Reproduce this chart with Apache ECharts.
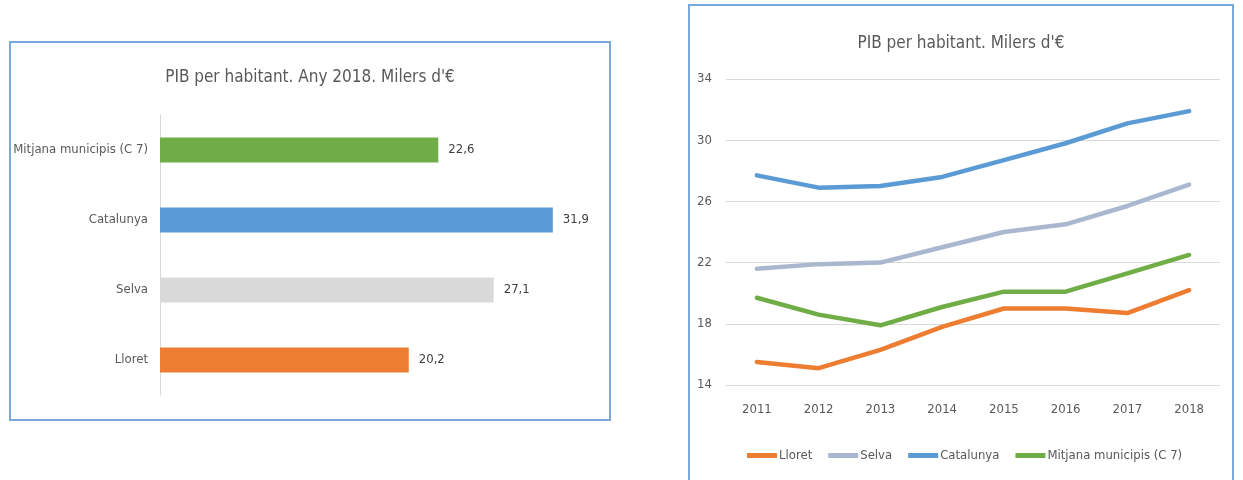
<!DOCTYPE html>
<html>
<head>
<meta charset="utf-8">
<script src="https://cdn.jsdelivr.net/npm/echarts@6/dist/echarts.min.js"></script>
<style>
  html, body { margin: 0; padding: 0; background: #fff; overflow: hidden; width: 1243px; height: 480px; }
  #barchart { position: absolute; left: 9px; top: 41px; width: 598px; height: 376px; border: 2px solid #7aa7dc; }
  #linechart { position: absolute; left: 688px; top: 4px; width: 542px; height: 480px; border: 2px solid #7aa7dc; }
</style>
</head>
<body>
<div id="barchart"></div>
<div id="linechart"></div>
<script>
// dades del grafic de barres (any 2018), de baix a dalt
const barCats = ['Lloret', 'Selva', 'Catalunya', 'Mitjana municipis (C 7)'];
const barVals = [20.2, 27.1, 31.9, 22.6];
const barColors = ['#ED7D31', '#D9D9D9', '#5B9BD5', '#70AD47'];

// dades del grafic de linies
const years = ['2011', '2012', '2013', '2014', '2015', '2016', '2017', '2018'];
const lloret = [15.5, 15.1, 16.3, 17.8, 19.0, 19.0, 18.7, 20.2];
const selva = [21.6, 21.9, 22.0, 23.0, 24.0, 24.5, 25.7, 27.1];
const catalunya = [27.7, 26.9, 27.0, 27.6, 28.7, 29.8, 31.1, 31.9];
const mitjana = [19.7, 18.6, 17.9, 19.1, 20.1, 20.1, 21.3, 22.5];
const yTicks = [14, 18, 22, 26, 30, 34];

const font = '"DejaVu Sans Condensed", "Liberation Sans", sans-serif';
const txt = '#595959';

let barChart = echarts.init(document.getElementById('barchart'));
barChart.setOption({
  animation: false,
  textStyle: { fontFamily: font },
  title: {
    text: "PIB per habitant. Any 2018. Milers d'€",
    left: 'center',
    top: 21,
    textStyle: { fontFamily: font, fontSize: 17, fontWeight: 'normal', color: txt }
  },
  grid: { left: 149, right: 18, top: 72, bottom: 24, outerBoundsMode: 'none' },
  xAxis: {
    type: 'value', min: 0, max: 35, show: false
  },
  yAxis: {
    type: 'category',
    data: barCats,
    axisLine: { lineStyle: { color: '#D9D9D9' } },
    axisTick: { show: false },
    axisLabel: { color: txt, fontSize: 13, fontFamily: font, margin: 12 }
  },
  series: [{
    type: 'bar',
    barWidth: 25,
    data: barVals.map((v, i) => ({ value: v, itemStyle: { color: barColors[i] } })),
    label: {
      show: true,
      position: 'right',
      distance: 10,
      color: '#404040',
      fontSize: 13,
      fontFamily: font,
      formatter: p => p.value.toFixed(1).replace('.', ',')
    }
  }]
});

let lineChart = echarts.init(document.getElementById('linechart'));
const mkLine = (name, data, color) => ({
  name: name,
  type: 'line',
  data: data,
  symbol: 'none',
  lineStyle: { width: 4.5, color: color, cap: 'round', join: 'round' },
  itemStyle: { color: color }
});
lineChart.setOption({
  animation: false,
  textStyle: { fontFamily: font },
  title: {
    text: "PIB per habitant. Milers d'€",
    left: 'center',
    top: 24,
    textStyle: { fontFamily: font, fontSize: 17, fontWeight: 'normal', color: txt }
  },
  grid: { left: 36, right: 12, top: 73, bottom: 101, outerBoundsMode: 'none' },
  legend: {
    left: 52,
    top: 438,
    itemWidth: 30,
    itemHeight: 5,
    itemGap: 16,
    icon: 'rect',
    textStyle: { color: txt, fontSize: 13, fontFamily: font, padding: [0, 0, 0, -3] },
    data: ['Lloret', 'Selva', 'Catalunya', 'Mitjana municipis (C 7)']
  },
  xAxis: {
    type: 'category',
    data: years,
    axisLine: { show: false },
    axisTick: { show: false },
    axisLabel: { color: txt, fontSize: 13, fontFamily: font, margin: 18 }
  },
  yAxis: {
    type: 'value',
    min: yTicks[0],
    max: yTicks[yTicks.length - 1],
    interval: 4,
    axisLine: { show: false },
    axisTick: { show: false },
    splitLine: { lineStyle: { color: '#D9D9D9', width: 1 } },
    axisLabel: { color: txt, fontSize: 13, fontFamily: font, margin: 14 }
  },
  series: [
    mkLine('Lloret', lloret, '#ED7D31'),
    mkLine('Selva', selva, '#A9B8CF'),
    mkLine('Catalunya', catalunya, '#5B9BD5'),
    mkLine('Mitjana municipis (C 7)', mitjana, '#70AD47')
  ]
});
</script>
</body>
</html>
